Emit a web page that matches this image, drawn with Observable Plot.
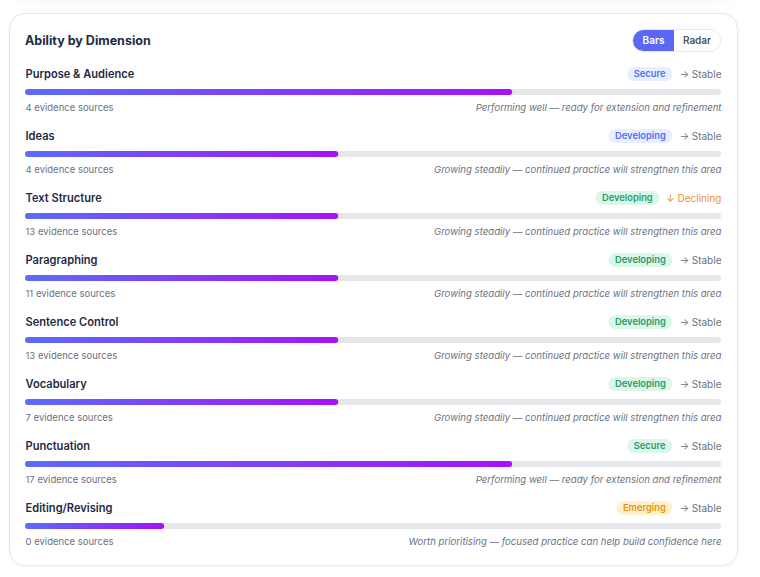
<!DOCTYPE html>
<html><head><meta charset="utf-8">
<script src="https://cdn.jsdelivr.net/npm/d3@7"></script>
<script src="https://cdn.jsdelivr.net/npm/@observablehq/plot@0.6"></script>
<style>
body{margin:0;width:760px;height:577px;background:#fff;font-family:Inter,sans-serif;position:relative;overflow:hidden}
.prev{position:absolute;left:9px;top:-75px;width:728px;height:69px;border-radius:16px;box-shadow:0 5px 12px rgba(0,0,0,0.06);background:#fff}
.card{position:absolute;left:9px;top:13px;width:727px;height:551px;border:1px solid #e6e8ec;border-radius:16px;background:#fff;box-shadow:0 1px 4px rgba(0,0,0,0.04)}
.title{position:absolute;left:25px;top:32px;font-weight:700;font-size:12.5px;color:#1e2a44;line-height:18px}
.toggle{position:absolute;left:632px;top:29px;width:87px;height:21px;border:1px solid #e5e7eb;border-radius:12px;display:flex;overflow:hidden;font-size:10px;font-weight:600;line-height:21px}
.toggle .on{width:41px;background:#5b67f5;color:#fff;text-align:center}
.toggle .off{flex:1;background:#fff;color:#4b5563;text-align:center}
#chart{position:absolute;left:0;top:0}
</style></head>
<body>
<div class="prev"></div>
<div class="card"></div>
<div class="title">Ability by Dimension</div>
<div class="toggle"><div class="on">Bars</div><div class="off">Radar</div></div>
<div id="chart"></div>
<script>
const dims = ["Purpose & Audience","Ideas","Text Structure","Paragraphing","Sentence Control","Vocabulary","Punctuation","Editing/Revising"];
const scores = [0.70,0.45,0.45,0.45,0.45,0.45,0.70,0.20];
const evidence = [4,4,13,11,13,7,17,0];
const levels = ["Secure","Developing","Developing","Developing","Developing","Developing","Secure","Emerging"];
const tones = ["blue","blue","green","green","green","green","green","amber"];
const trends = ["Stable","Stable","Declining","Stable","Stable","Stable","Stable","Stable"];
const notes = [
  "Performing well — ready for extension and refinement",
  "Growing steadily — continued practice will strengthen this area",
  "Growing steadily — continued practice will strengthen this area",
  "Growing steadily — continued practice will strengthen this area",
  "Growing steadily — continued practice will strengthen this area",
  "Growing steadily — continued practice will strengthen this area",
  "Performing well — ready for extension and refinement",
  "Worth prioritising — focused practice can help build confidence here"
];
const toneText = {blue:"#4f6ef7", green:"#1f9d6a", amber:"#e8930c"};
const toneBg = {blue:"#e8eeff", green:"#dcf6e9", amber:"#fff0cc"};

const rows = dims.map((d,i)=>({name:d, score:scores[i], ev:evidence[i], level:levels[i], tone:tones[i], trend:trends[i], note:notes[i]}));

const chart = Plot.plot({
  width:760, height:577, marginLeft:25, marginRight:39, marginTop:61, marginBottom:20,
  x:{domain:[0,1], axis:null},
  y:{type:"band", domain:dims, padding:0, axis:null},
  color:{type:"identity"},
  style:{fontFamily:"Inter, sans-serif", overflow:"visible", background:"transparent"},
  marks:[
    Plot.barX(rows,{y:"name", x1:0, x2:1, fill:"#e5e7eb", insetTop:28, insetBottom:28, rx:3}),
    Plot.barX(rows,{y:"name", x1:0, x2:"score", fill:"url(#barGrad)", insetTop:28, insetBottom:28, rx:3}),
    Plot.text(rows,{y:"name", text:"name", frameAnchor:"left", textAnchor:"start", dy:-18, fontSize:11.1, fontWeight:600, fill:"#1e2a44"}),
    Plot.text(rows,{y:"name", text:d=>`${d.ev} evidence sources`, frameAnchor:"left", textAnchor:"start", dy:15, fontSize:9.5, fill:"#6b7280"}),
    Plot.text(rows,{y:"name", text:"note", frameAnchor:"right", textAnchor:"end", dy:15, fontSize:9.6, fontStyle:"italic", fill:"#6b7280"}),
    Plot.text(rows,{y:"name", text:d=>(d.trend==="Declining"?"↓ ":"→ ")+d.trend, frameAnchor:"right", textAnchor:"end", dy:-18, fontSize:10, fill:d=>d.trend==="Declining"?"#e8962f":"#6b7280", className:"trend"}),
    Plot.text(rows,{y:"name", text:"level", frameAnchor:"right", textAnchor:"middle", dy:-18, fontSize:9.3, fontWeight:600, fill:d=>toneText[d.tone], className:"badge"})
  ]
});
document.getElementById("chart").appendChild(chart);

const svg = d3.select(chart);
const defs = svg.insert("defs", ":first-child");
const g = defs.append("linearGradient").attr("id","barGrad").attr("x1","0").attr("x2","1").attr("y1","0").attr("y2","0");
g.append("stop").attr("offset","0%").attr("stop-color","#5b6cfa");
g.append("stop").attr("offset","100%").attr("stop-color","#a612f6");

const trendTexts = chart.querySelectorAll("g.trend text");
const badgeTexts = chart.querySelectorAll("g.badge text");
const badgeGroup = chart.querySelector("g.badge");
const svgRect = chart.getBoundingClientRect();
const bg = svg.insert("g", () => badgeGroup);
badgeTexts.forEach((t,i)=>{
  const tr = trendTexts[i].getBoundingClientRect();
  const br = t.getBoundingClientRect();
  const padX = 6.5, h = 14;
  const w = br.width + 2*padX;
  const cx = tr.left - svgRect.left - 7 - w/2;
  const cur = br.left - svgRect.left + br.width/2;
  const shift = cx - cur;
  t.setAttribute("transform", (t.getAttribute("transform")||"") + ` translate(${shift},0)`);
  const cy = br.top - svgRect.top + br.height/2;
  bg.append("rect").attr("x", cx - w/2).attr("y", cy - h/2).attr("width", w).attr("height", h)
    .attr("rx", h/2).attr("fill", toneBg[rows[i].tone]);
});
</script>
</body></html>
